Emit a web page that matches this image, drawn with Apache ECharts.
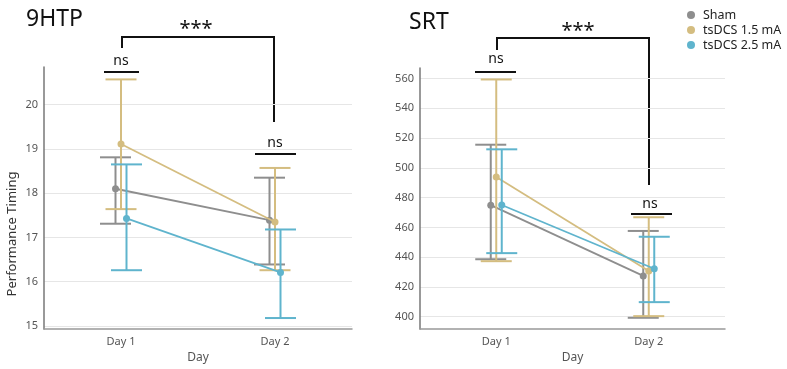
<!DOCTYPE html>
<html>
<head>
<meta charset="utf-8">
<script src="https://cdn.jsdelivr.net/npm/echarts@6/dist/echarts.min.js"></script>
<style>
  html, body { margin: 0; padding: 0; background: #fff; }
  #main { width: 787px; height: 369px; }
</style>
</head>
<body>
<div id="main"></div>
<script>
var days = ['Day 1', 'Day 2'];
var groups = ['Sham', 'tsDCS 1.5 mA', 'tsDCS 2.5 mA'];
var colors = ['#8e8e8e', '#d4bd80', '#5fb4cd'];

// 9HTP: mean, lower and upper error bar per group, [Day 1, Day 2]
var htpMean = [[18.10, 17.39], [19.11, 17.35], [17.43, 16.21]];
var htpLow = [[17.31, 16.39], [17.64, 16.26], [16.26, 15.18]];
var htpHigh = [[18.81, 18.35], [20.57, 18.57], [18.65, 17.18]];
var htpTicks = [15, 16, 17, 18, 19, 20];

// SRT
var srtMean = [[474.9, 427.4], [493.8, 430.7], [475.0, 432.2]];
var srtLow = [[438.6, 399.3], [437.3, 400.4], [442.7, 409.8]];
var srtHigh = [[515.5, 457.6], [559.3, 466.8], [512.4, 453.7]];
var srtTicks = [400, 420, 440, 460, 480, 500, 520, 540, 560];

var offsets = [-5.5, 0, 5.5];
var capHalf = 15.5;

var myChart = echarts.init(document.getElementById('main'));

var makeItem = function (mean, low, high, g) {
    return [0, mean[g][0], low[g][0], high[g][0], mean[g][1], low[g][1], high[g][1]];
};

var renderGroup = function (offset, color) {
    return function (params, api) {
        var pts = [];
        var bars = [];
        var dots = [];
        var st = { stroke: color, lineWidth: 2 };
        for (var d = 0; d < 2; d++) {
            var m = api.coord([d, api.value(1 + d * 3)]);
            var lo = api.coord([d, api.value(2 + d * 3)]);
            var hi = api.coord([d, api.value(3 + d * 3)]);
            var x = m[0] + offset;
            pts.push([x, m[1]]);
            bars.push({ type: 'line', shape: { x1: x, y1: lo[1], x2: x, y2: hi[1] }, style: st });
            bars.push({ type: 'line', shape: { x1: x - capHalf, y1: lo[1], x2: x + capHalf, y2: lo[1] }, style: st });
            bars.push({ type: 'line', shape: { x1: x - capHalf, y1: hi[1], x2: x + capHalf, y2: hi[1] }, style: st });
            dots.push({ type: 'circle', shape: { cx: x, cy: m[1], r: 3.5 }, style: { fill: color } });
        }
        var children = bars.concat([{ type: 'polyline', shape: { points: pts }, style: { stroke: color, lineWidth: 1.8, fill: null } }]).concat(dots);
        return { type: 'group', children: children };
    };
};

var series = [];
groups.forEach(function (name, g) {
    series.push({
        name: name,
        type: 'custom',
        xAxisIndex: 0,
        yAxisIndex: 0,
        itemStyle: { color: colors[g] },
        encode: { x: 0, y: 1 },
        renderItem: renderGroup(offsets[g], colors[g]),
        data: [makeItem(htpMean, htpLow, htpHigh, g)]
    });
});
groups.forEach(function (name, g) {
    series.push({
        name: name,
        type: 'custom',
        xAxisIndex: 1,
        yAxisIndex: 1,
        itemStyle: { color: colors[g] },
        encode: { x: 0, y: 1 },
        renderItem: renderGroup(offsets[g], colors[g]),
        data: [makeItem(srtMean, srtLow, srtHigh, g)]
    });
});

var xAxisBase = function (gridIndex) {
    return {
        type: 'category',
        gridIndex: gridIndex,
        data: days,
        name: 'Day',
        nameLocation: 'middle',
        nameGap: 22,
        nameTextStyle: { color: '#555', fontSize: 12, fontFamily: 'Noto Sans' },
        axisLine: { show: true, lineStyle: { color: '#999', width: 1.5 } },
        axisTick: { show: false },
        axisLabel: { color: '#555', fontSize: 11, margin: 7, fontFamily: 'Noto Sans' },
        splitLine: { show: false }
    };
};

var yAxisBase = function (gridIndex, min, max, ticks) {
    return {
        type: 'value',
        gridIndex: gridIndex,
        min: min,
        max: max,
        axisLine: { show: true, lineStyle: { color: '#777', width: 1.5 } },
        axisTick: { show: false, customValues: ticks },
        axisLabel: { color: '#555', fontSize: 11, margin: 6, fontFamily: 'Noto Sans', customValues: ticks },
        splitLine: { show: true, lineStyle: { color: '#e6e6e6', width: 1 } }
    };
};

var txt = function (text, x, y, size) {
    return {
        type: 'text', x: x, y: y,
        style: { text: text, fontSize: size, fontFamily: 'Noto Sans', fill: '#111', align: 'center', verticalAlign: 'middle' }
    };
};
var seg = function (points) {
    return { type: 'polyline', shape: { points: points }, style: { stroke: '#111', lineWidth: 2, fill: null } };
};

var option = {
    animation: false,
    grid: [
        { left: 44, top: 67, width: 308, height: 267 },
        { left: 420, top: 68, width: 305, height: 266 }
    ],
    xAxis: [xAxisBase(0), xAxisBase(1)],
    yAxis: [yAxisBase(0, 14.93, 20.85, htpTicks), yAxisBase(1, 391.7, 567, srtTicks)],
    legend: {
        data: groups,
        orient: 'vertical',
        left: 687,
        top: 7.5,
        padding: 0,
        icon: 'circle',
        itemWidth: 8,
        itemHeight: 8,
        itemGap: 0,
        textStyle: { color: '#222', fontSize: 12.5, lineHeight: 15, fontFamily: 'Noto Sans', padding: [0, 0, 0, 3] }
    },
    graphic: [
        { type: 'text', left: 26, top: 8, style: { text: '9HTP', fontSize: 23, fontFamily: 'Noto Sans', fill: '#111' } },
        { type: 'text', left: 409, top: 11, style: { text: 'SRT', fontSize: 23, fontFamily: 'Noto Sans', fill: '#111' } },
        {
            type: 'text', x: 12, y: 234, rotation: Math.PI / 2,
            style: { text: 'Performance Timing', fontSize: 13, fontFamily: 'Noto Sans', fill: '#333', align: 'center', verticalAlign: 'middle' }
        },
        txt('***', 196, 29, 20),
        seg([[122, 48], [122, 37], [274, 37], [274, 122]]),
        txt('ns', 121, 61, 14),
        seg([[104, 72], [139, 72]]),
        txt('ns', 275, 143, 14),
        seg([[255, 154], [296, 154]]),
        txt('***', 578, 31, 20),
        seg([[497, 50], [497, 38], [649, 38], [649, 185]]),
        txt('ns', 496, 59, 14),
        seg([[475, 72], [516, 72]]),
        txt('ns', 650, 204, 14),
        seg([[631, 214], [672, 214]])
    ],
    series: series
};
myChart.setOption(option);
</script>
</body>
</html>
